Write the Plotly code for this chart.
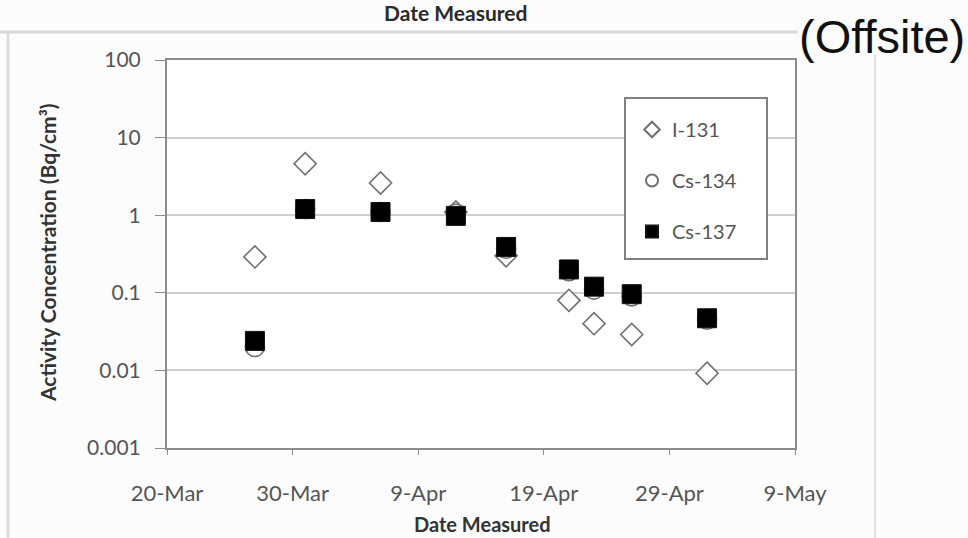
import plotly.graph_objects as go

# ---- data ----
dates = ["2011-03-27", "2011-03-31", "2011-04-06", "2011-04-12", "2011-04-16",
         "2011-04-21", "2011-04-23", "2011-04-26", "2011-05-02"]
i131 = [0.29, 4.6, 2.6, 1.1, 0.30, 0.08, 0.04, 0.029, 0.0092]
cs134 = [0.020, 1.2, 1.1, 1.05, 0.37, 0.19, 0.11, 0.09, 0.045]
cs137 = [0.024, 1.2, 1.1, 0.98, 0.39, 0.20, 0.12, 0.096, 0.047]

x_tickvals = ["2011-03-20", "2011-03-30", "2011-04-09", "2011-04-19", "2011-04-29", "2011-05-09"]
x_ticktext = ["20-Mar", "30-Mar", "9-Apr", "19-Apr", "29-Apr", "9-May"]
y_tickvals = [0.001, 0.01, 0.1, 1, 10, 100]
y_ticktext = ["0.001", "0.01", "0.1", "1", "10", "100"]

# ---- layout geometry (pixels) ----
W, H = 968, 538
L, R, T, B = 167, 795, 60, 448
pw, ph = R - L, B - T


def px(x):
    return (x - L) / pw


def py(y):
    return (B - y) / ph


FONT = "Lato"
fig = go.Figure()

fig.add_trace(go.Scatter(
    x=dates, y=i131, mode="markers", name="I-131", legendgroup="a",
    marker=dict(symbol="diamond", size=17, color="white",
                line=dict(color="#707070", width=1.6))))
fig.add_trace(go.Scatter(
    x=dates, y=cs134, mode="markers", name="Cs-134", legendgroup="b",
    marker=dict(symbol="circle", size=19, color="white",
                line=dict(color="#707070", width=1.6))))
fig.add_trace(go.Scatter(
    x=dates, y=cs137, mode="markers", name="Cs-137", legendgroup="c",
    marker=dict(symbol="square", size=19, color="black",
                line=dict(color="#111111", width=1))))

shapes = []
# page frame lines
shapes.append(dict(type="line", xref="paper", yref="paper",
                   x0=px(0), x1=px(798), y0=py(32), y1=py(32),
                   line=dict(color="#d8d8d8", width=3)))
shapes.append(dict(type="line", xref="paper", yref="paper",
                   x0=px(8), x1=px(8), y0=py(32), y1=py(538),
                   line=dict(color="#dcdcdc", width=3)))
shapes.append(dict(type="line", xref="paper", yref="paper",
                   x0=px(875), x1=px(875), y0=py(55), y1=py(538),
                   line=dict(color="#e2e2e2", width=2)))
# legend box
shapes.append(dict(type="rect", xref="paper", yref="paper",
                   x0=px(625), x1=px(767), y0=py(259), y1=py(98),
                   line=dict(color="#808080", width=2), fillcolor="white",
                   layer="above"))

annotations = [
    dict(text="<b>Activity Concentration (Bq/cm³)</b>", textangle=-90,
         x=px(47), y=py(253), xref="paper", yref="paper", showarrow=False,
         xanchor="center", yanchor="middle",
         font=dict(family=FONT, size=21, color="#333333")),
    dict(text="<b>Date Measured</b>", x=px(482), y=py(524), xref="paper",
         yref="paper", showarrow=False, xanchor="center", yanchor="middle",
         font=dict(family=FONT, size=20, color="#333333")),
    dict(text="<b>Date Measured</b>", x=px(455), y=py(13), xref="paper",
         yref="paper", showarrow=False, xanchor="center", yanchor="middle",
         font=dict(family=FONT, size=21, color="#2a2a2a")),
    dict(text="(Offsite)", x=px(797), y=py(36), xref="paper", yref="paper",
         showarrow=False, xanchor="left", yanchor="middle",
         font=dict(family="Liberation Sans", size=47, color="#111111")),
]

fig.update_layout(
    width=W, height=H,
    margin=dict(l=L, r=W - R, t=T, b=H - B, pad=0),
    paper_bgcolor="#fcfcfc", plot_bgcolor="white",
    shapes=shapes, annotations=annotations,
    showlegend=True,
    legend=dict(x=px(632), y=py(110), xanchor="left", yanchor="top",
                bgcolor="rgba(0,0,0,0)", borderwidth=0,
                font=dict(family=FONT, size=20, color="#555555"),
                tracegroupgap=22, itemsizing="constant", itemwidth=30),
    xaxis=dict(type="date", range=["2011-03-20", "2011-05-09"],
               tickvals=x_tickvals, ticktext=x_ticktext,
               showgrid=False, zeroline=False,
               showline=True, linecolor="#8c8c8c", linewidth=2, mirror=True,
               ticks="outside", ticklen=5, tickcolor="#8c8c8c", tickwidth=1,
               ticklabelstandoff=20,
               tickfont=dict(family=FONT, size=22, color="#555555")),
    yaxis=dict(type="log", range=[-3, 2],
               tickvals=y_tickvals, ticktext=y_ticktext,
               showgrid=True, gridcolor="#d0d0d0", gridwidth=2,
               zeroline=False,
               showline=True, linecolor="#8c8c8c", linewidth=2, mirror=True,
               ticks="outside", ticklen=10, tickcolor="#8c8c8c", tickwidth=1,
               ticklabelstandoff=10,
               tickfont=dict(family=FONT, size=21, color="#555555")),
)

fig.write_html("out.html")
